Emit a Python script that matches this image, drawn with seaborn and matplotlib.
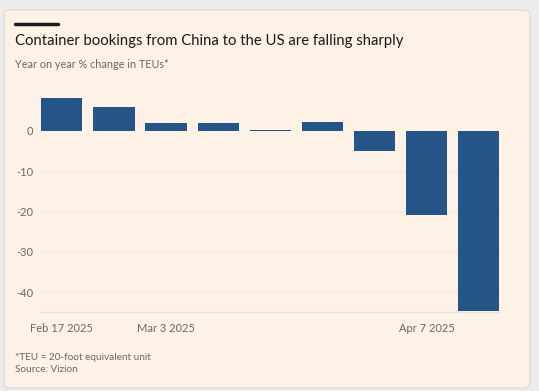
import matplotlib
matplotlib.use("Agg")
import matplotlib.pyplot as plt
from matplotlib.patches import FancyBboxPatch
import seaborn as sns
import pandas as pd

weeks = ["Feb 17 2025", "Feb 24 2025", "Mar 3 2025", "Mar 10 2025", "Mar 17 2025",
         "Mar 24 2025", "Mar 31 2025", "Apr 7 2025", "Apr 14 2025"]
yoy_change = [8.0, 5.9, 2.0, 2.0, 0.15, 2.1, -5.0, -20.9, -44.6]
shown_labels = ["Feb 17 2025", "Mar 3 2025", "Apr 7 2025"]
y_ticks = [0, -10, -20, -30, -40]

df = pd.DataFrame({"week": weeks, "change": yoy_change})

BG = "#FEF1E5"
BAR = "#245488"

sns.set_theme(style="white")
plt.rcParams["font.family"] = ["Lato", "DejaVu Sans"]

fig = plt.figure(figsize=(5.39, 3.91), dpi=100)
fig.patch.set_facecolor("#ECECEC")
card = FancyBboxPatch((4 / 539, 1 - 388 / 391), 526 / 539, 378 / 391,
                      boxstyle="round,pad=0,rounding_size=0.012",
                      transform=fig.transFigure, facecolor=BG, edgecolor="#D8D8D8",
                      linewidth=0.8, zorder=-5)
fig.patches.append(card)

ax = fig.add_axes([40 / 539, 1 - 311.7 / 391, 460 / 539, (311.7 - 90.3) / 391])
ax.set_zorder(2)
ax.patch.set_alpha(0)

sns.barplot(data=df, x="week", y="change", color=BAR, width=0.79, ax=ax,
            saturation=1, zorder=3, edgecolor=BAR, linewidth=0)

ax.set_xlim(-0.42, 8.41)
ax.set_ylim(-44.8, 10)
ax.set_yticks(y_ticks)
ax.set_yticklabels([str(v) for v in y_ticks])
for v in y_ticks[1:]:
    ax.axhline(v, color="#F5E9DE", linewidth=0.8, zorder=1)

ax.set_xticks(range(len(weeks)))
ax.set_xticklabels([w if w in shown_labels else "" for w in weeks])
ax.tick_params(axis="x", length=4, width=0.6, color="#EBDFD4", direction="in",
               labelsize=8, labelcolor="#6E6862", pad=8)
ax.tick_params(axis="y", length=0, labelsize=8, labelcolor="#6E6862", pad=5)
ax.set_xlabel("")
ax.set_ylabel("")
for s in ["top", "right", "left"]:
    ax.spines[s].set_visible(False)
ax.spines["bottom"].set_color("#EBDFD4")
ax.spines["bottom"].set_linewidth(0.8)

# header decorations
fig.add_artist(plt.Line2D([15 / 539, 58 / 539], [1 - 24 / 391, 1 - 24 / 391],
                          color="#1A1A1A", linewidth=2.5, transform=fig.transFigure))
fig.text(15 / 539, 1 - 41 / 391, "Container bookings from China to the US are falling sharply",
         fontsize=10.7, color="#1A1A1A", va="center", ha="left")
fig.text(15 / 539, 1 - 64 / 391, "Year on year % change in TEUs*",
         fontsize=7.8, color="#6E6862", va="center", ha="left")
fig.text(15 / 539, 1 - 357 / 391, "*TEU = 20-foot equivalent unit",
         fontsize=7.2, color="#6E6862", va="center", ha="left")
fig.text(15 / 539, 1 - 370 / 391, "Source: Vizion",
         fontsize=7.2, color="#6E6862", va="center", ha="left")

fig.savefig("out.png", dpi=100, facecolor=fig.get_facecolor())
